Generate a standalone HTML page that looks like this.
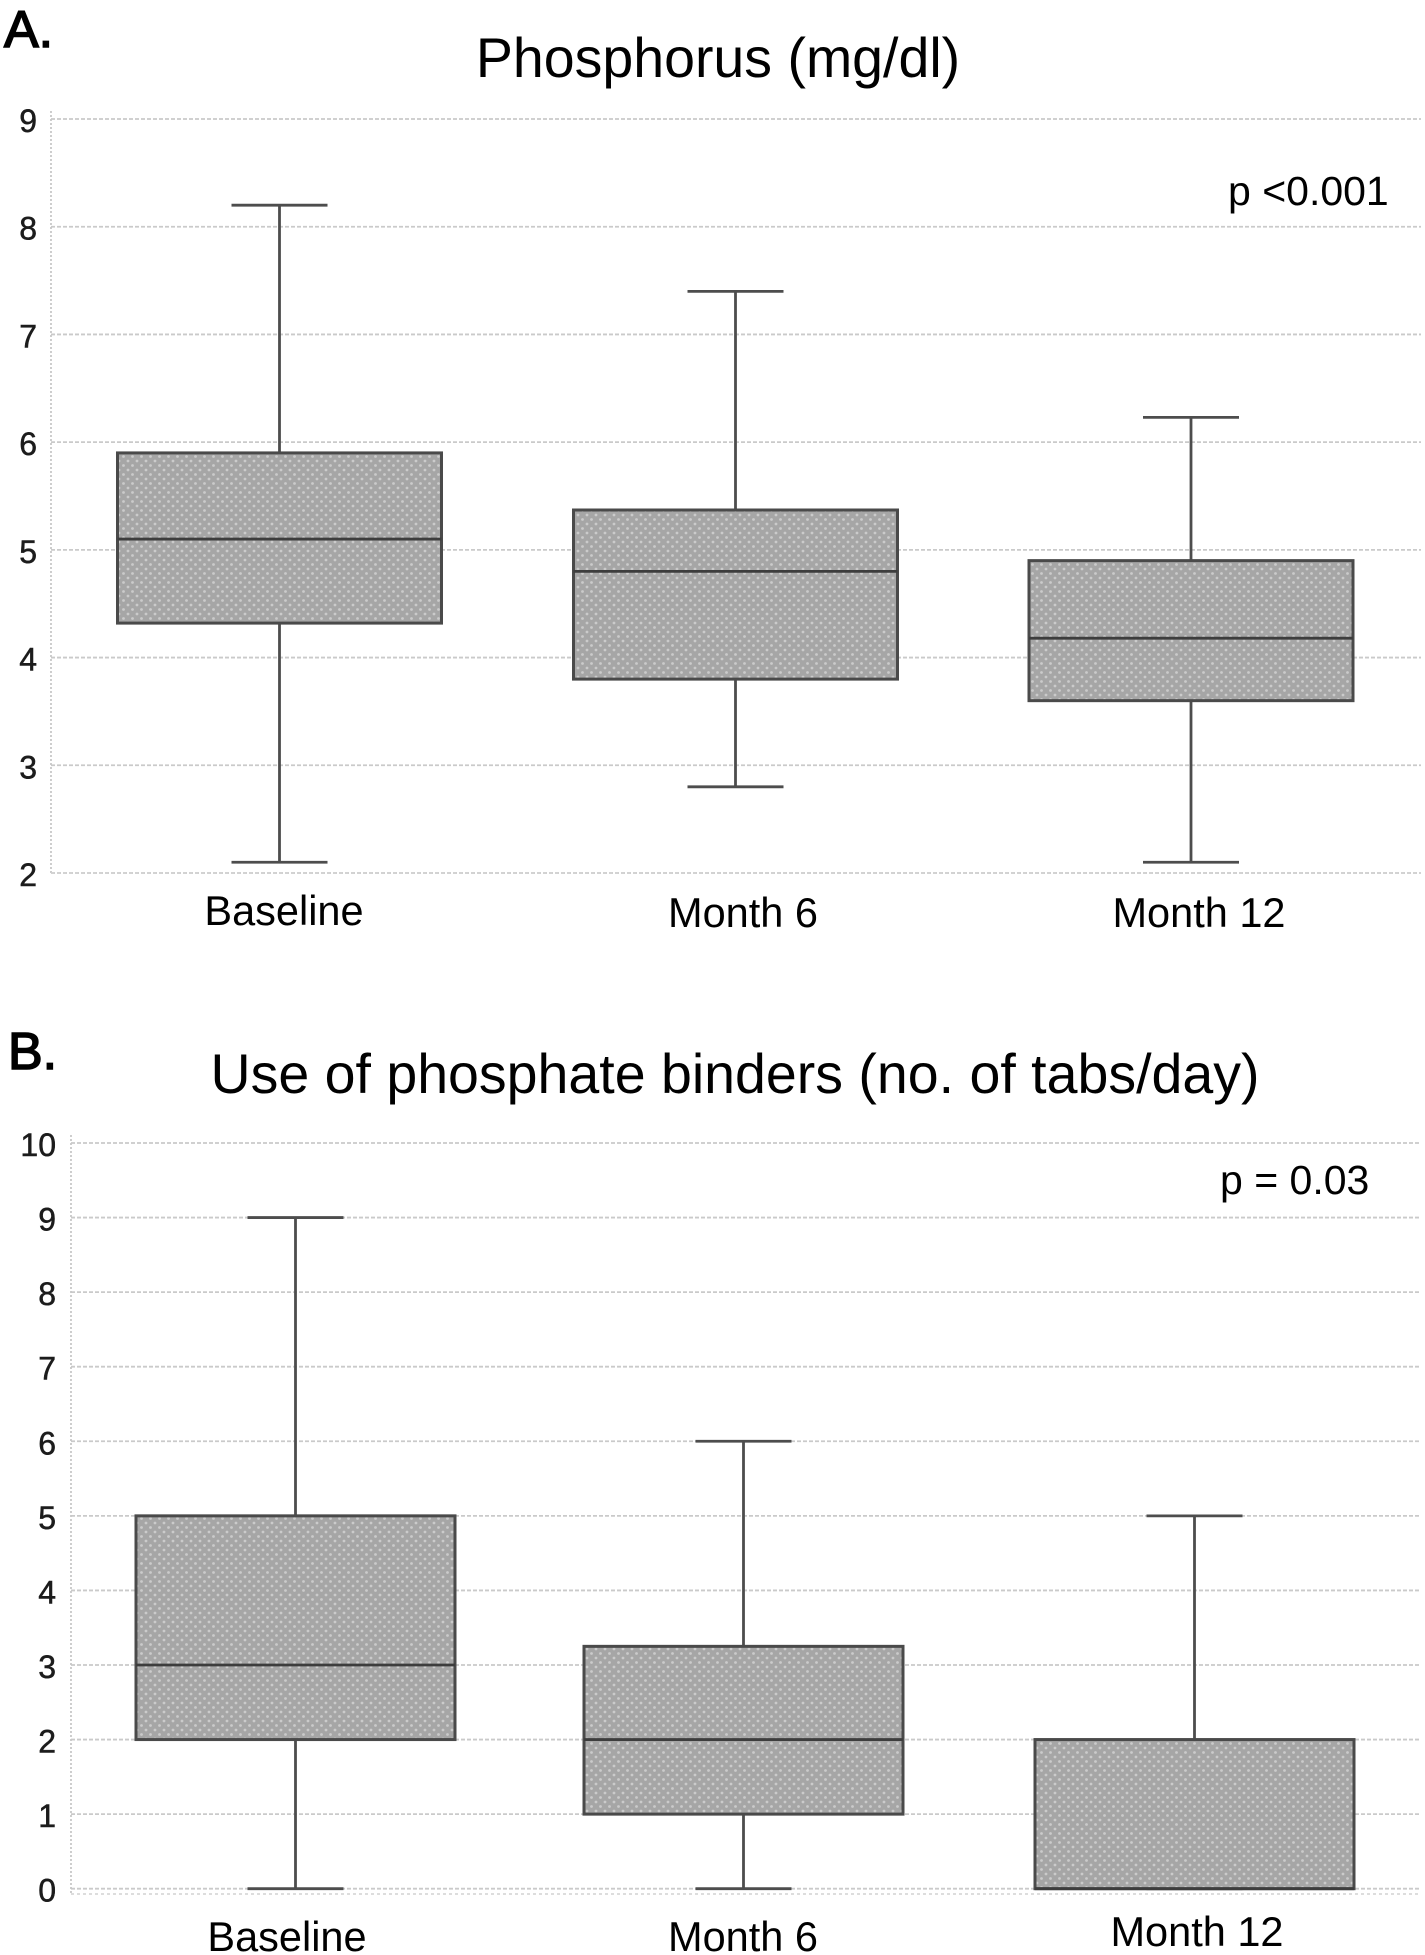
<!DOCTYPE html>
<html lang="en">
<head>
<meta charset="utf-8">
<title>Phosphorus and phosphate binder box plots</title>
<style>
html,body{margin:0;padding:0;background:#fff;}
svg{display:block;}
text{font-family:"Liberation Sans",sans-serif;fill:#000;}
.tick{font-size:32px;fill:#1c1c1c;stroke:#1c1c1c;stroke-width:.5px;}
.cat{font-size:41.5px;text-anchor:middle;}
.title{font-size:55.5px;text-anchor:middle;}
.pval{font-size:41px;}
.letter{font-size:52px;stroke:#000;stroke-width:1.6px;}
</style>
</head>
<body>
<svg id="figure" xmlns="http://www.w3.org/2000/svg" width="1425" height="1955" viewBox="0 0 1425 1955">
<defs>
<pattern id="dots" patternUnits="userSpaceOnUse" width="9" height="9">
<rect width="9" height="9" fill="#a6a6a6"/>
<circle cx="2" cy="2" r="1.4" fill="#cbcbcb"/>
<circle cx="6.5" cy="6.5" r="1.4" fill="#cbcbcb"/>
</pattern>
</defs>
<text class="letter" x="4" y="47">A.</text>
<text class="title" x="718" y="77">Phosphorus (mg/dl)</text>
<text class="pval" x="1228" y="205">p &lt;0.001</text>
<text class="letter" x="8" y="1069">B.</text>
<text class="title" x="735" y="1093">Use of phosphate binders (no. of tabs/day)</text>
<text class="pval" x="1220" y="1194">p = 0.03</text>
<g id="panelA"></g>
<g id="panelB"></g>
</svg>
<script>
// Panel A data: phosphorus (mg/dl)
const categoriesA = ["Baseline", "Month 6", "Month 12"];
const ticksA = [2, 3, 4, 5, 6, 7, 8, 9];
const lowA = [2.1, 2.8, 2.1];
const q1A = [4.32, 3.8, 3.6];
const medianA = [5.1, 4.8, 4.18];
const q3A = [5.9, 5.37, 4.9];
const highA = [8.2, 7.4, 6.23];

// Panel B data: phosphate binders (tabs/day)
const categoriesB = ["Baseline", "Month 6", "Month 12"];
const ticksB = [0, 1, 2, 3, 4, 5, 6, 7, 8, 9, 10];
const lowB = [0, 0, 0];
const q1B = [2, 1, 0];
const medianB = [3, 2, 0];
const q3B = [5, 3.25, 2];
const highB = [9, 6, 5];

const NS = "http://www.w3.org/2000/svg";
function mk(tag, attrs, parent) {
  const el = document.createElementNS(NS, tag);
  for (const k in attrs) el.setAttribute(k, attrs[k]);
  parent.appendChild(el);
  return el;
}

function drawPanel(root, cfg, cats, ticks, low, q1, med, q3, high) {
  const y = v => cfg.yTop + (cfg.vMax - v) * (cfg.yBottom - cfg.yTop) / (cfg.vMax - cfg.vMin);
  const bx = i => cfg.boxLeft[i];
  const cx = i => bx(i) + cfg.boxWidth / 2;

  ticks.forEach(t => {
    const line = mk("line", {x1: cfg.axisX, x2: cfg.right, y1: y(t), y2: y(t), stroke: "#cacaca", "stroke-width": 1.8, "stroke-dasharray": "4 2"}, root);
    
    
    const label = mk("text", {class: "tick", x: cfg.tickRight, y: y(t) + 13, "text-anchor": "end"}, root);
    label.textContent = t;
    
    
  });

  const yAxis = mk("line", {x1: cfg.axisX, x2: cfg.axisX, y1: cfg.yTop - 8, y2: cfg.axisBottom, stroke: "#c8c8c8", "stroke-width": 1.8, "stroke-dasharray": "2 2"}, root);
  
  
  const xAxis = mk("line", {x1: cfg.axisX, x2: cfg.right, y1: cfg.axisBottom, y2: cfg.axisBottom, stroke: "#d2d2d2", "stroke-width": 1.6, "stroke-dasharray": "3 3"}, root);
  
  

  cats.forEach((c, i) => {
    const wStyle = {stroke: "#4d4d4d", "stroke-width": 2.8};
    const whisker = mk("line", Object.assign({x1: cx(i), x2: cx(i), y1: y(high[i]), y2: y(low[i])}, wStyle), root);
    
    
    const capHigh = mk("line", Object.assign({x1: cx(i) - 48, x2: cx(i) + 48, y1: y(high[i]), y2: y(high[i])}, wStyle), root);
    
    
    const capLow = mk("line", Object.assign({x1: cx(i) - 48, x2: cx(i) + 48, y1: y(low[i]), y2: y(low[i])}, wStyle), root);
    
    
    const box = mk("rect", {x: bx(i), width: cfg.boxWidth, y: y(q3[i]), height: y(q1[i]) - y(q3[i]), fill: "url(#dots)", stroke: "#4a4a4a", "stroke-width": 3}, root);
    
    
    const median = mk("line", {x1: bx(i), x2: bx(i) + cfg.boxWidth, y1: y(med[i]), y2: y(med[i]), stroke: "#3d3d3d", "stroke-width": 2.8}, root);
    
    
    const label = mk("text", {class: "cat", x: cfg.catX[i], y: cfg.catY[i]}, root);
    label.textContent = c;
    
    
  });
}

drawPanel(document.getElementById("panelA"), {
  yTop: 119, yBottom: 873, vMin: 2, vMax: 9, axisX: 51, right: 1421, axisBottom: 873, tickRight: 37,
  boxLeft: [117.5, 573.5, 1029], boxWidth: 324, catX: [284, 743, 1199], catY: [925, 927, 927]
}, categoriesA, ticksA, lowA, q1A, medianA, q3A, highA);

drawPanel(document.getElementById("panelB"), {
  yTop: 1143, yBottom: 1888.7, vMin: 0, vMax: 10, axisX: 71, right: 1421, axisBottom: 1894, tickRight: 56,
  boxLeft: [136, 584, 1035], boxWidth: 319, catX: [287, 743, 1197], catY: [1951, 1951, 1946]
}, categoriesB, ticksB, lowB, q1B, medianB, q3B, highB);
</script>
</body>
</html>
